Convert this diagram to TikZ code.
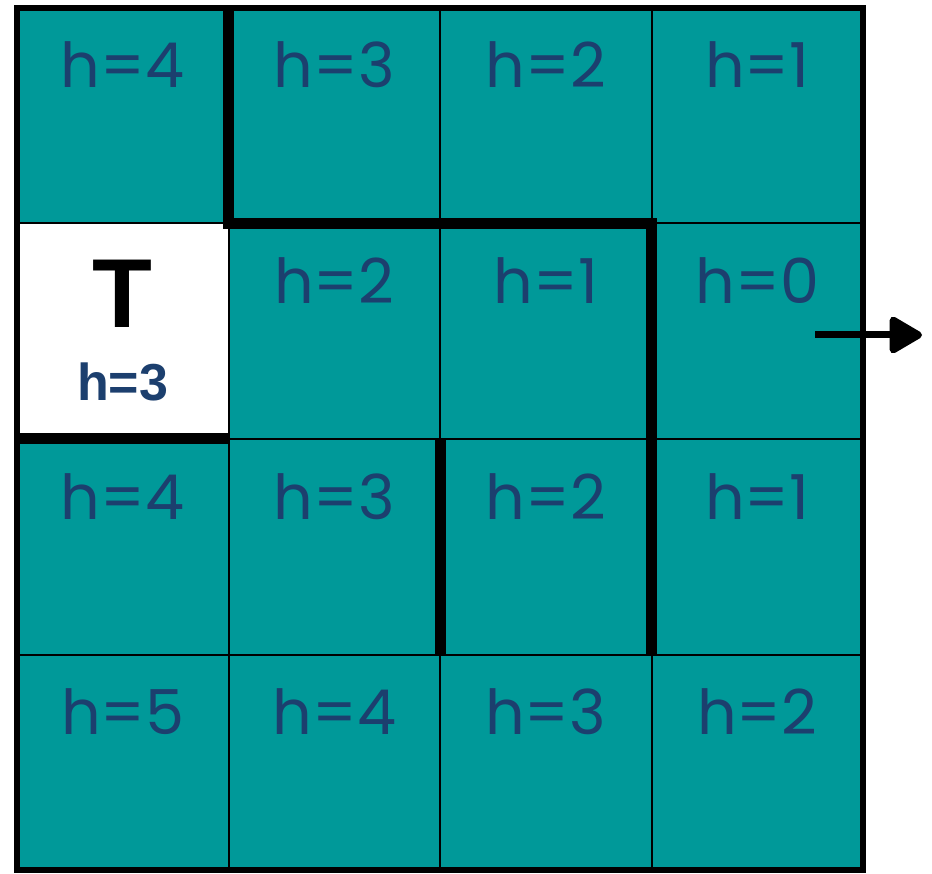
\documentclass[tikz,border=0pt]{standalone}
\usepackage{fontspec}
\setmainfont{Poppins}
\newfontfamily\goalfont{Liberation Sans}
\usetikzlibrary{arrows.meta,positioning}
\definecolor{cellteal}{RGB}{0,153,153}
\definecolor{hblue}{RGB}{28,63,110}

\begin{document}
\begin{tikzpicture}[x=1pt,y=-1pt,
    cell/.style={draw=black, line width=2pt, minimum width=211.5pt, minimum height=215.5pt, inner sep=0pt, outer sep=0pt},
    hval/.style={anchor=base, text=hblue, font=\fontsize{62}{62}\selectfont},
    goalmark/.style={anchor=base, font=\goalfont\bfseries\fontsize{98}{98}\selectfont},
    goalval/.style={anchor=base, text=hblue, font=\goalfont\bfseries\fontsize{52}{52}\selectfont},
    wall/.style={line width=11pt},
    border/.style={line width=6pt}]
    \useasboundingbox (0,0) rectangle (932,874);

    % cells with their h values
    \foreach \vals [count=\r] in {{4,3,2,1},{x,2,1,0},{4,3,2,1},{5,4,3,2}}
        \foreach \v [count=\c] in \vals {
            \ifnum\r\c=21 \def\cellfill{white}\else\def\cellfill{cellteal}\fi
            \node[cell, fill=\cellfill] (c-\r-\c) at ({17+211.5*(\c-0.5)},{8+215.5*(\r-0.5)}){};
            \ifnum\r\c=21 \else
                \node[hval] (h-\r-\c) at ([yshift=-80pt]c-\r-\c.north){h=\v};
            \fi
        }

    % target cell
    \node[goalmark] (t) at ([yshift=-104pt]c-2-1.north){T};
    \node[goalval] (t-h) at ([yshift=-177pt]c-2-1.north){h=3};

    % walls
    \draw[wall] (c-1-2.north west) -- (c-1-2.south west) -- (c-2-3.north east) -- (c-3-3.south east);
    \draw[wall] (c-3-3.north west) -- (c-3-3.south west);
    \draw[wall] (c-2-1.south west) -- (c-2-1.south east);
    \draw[border] (c-1-1.north west) rectangle (c-4-4.south east);

    % exit
    \coordinate (exit-from) at (815,335);
    \coordinate (exit-to) at (922,335);
    \draw[line width=7pt, -{Triangle[length=36pt, width=40pt, round]}] (exit-from) -- (exit-to);
\end{tikzpicture}
\end{document}
